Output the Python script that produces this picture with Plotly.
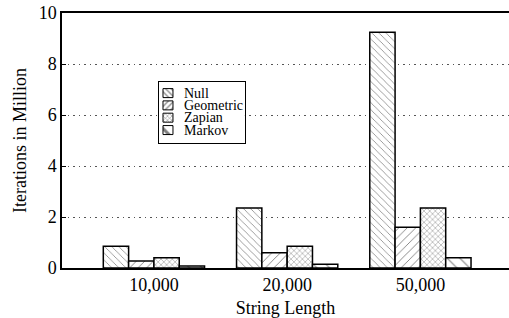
import plotly.graph_objects as go

categories = ["10,000", "20,000", "50,000"]
null_vals = [0.85, 2.35, 9.25]
geometric_vals = [0.27, 0.6, 1.6]
zapian_vals = [0.4, 0.85, 2.35]
markov_vals = [0.08, 0.15, 0.4]

series_names = ["Null", "Geometric", "Zapian", "Markov"]
series_values = [null_vals, geometric_vals, zapian_vals, markov_vals]
pattern_shapes = ["\\", "/", "x", "\\"]
pattern_sizes = [5, 6, 4, 9]
pattern_solidity = [0.15, 0.15, 0.22, 0.12]
legend_icon_sizes = [4, 4, 3, 10]

font_family = "Liberation Serif, Times New Roman, serif"
fig = go.Figure()
for name, vals, shape, size, sol in zip(series_names, series_values, pattern_shapes,
                                        pattern_sizes, pattern_solidity):
    fig.add_trace(go.Bar(
        x=categories, y=vals, name=name, showlegend=False,
        marker=dict(color="white", line=dict(color="black", width=1.5),
                    pattern=dict(shape=shape, size=size, solidity=sol,
                                 fgcolor="black", bgcolor="white", fillmode="overlay")),
    ))

# ---- custom legend drawn in a small overlay subplot (box in pixel-like units) ----
legend_rows = [11, 23.3, 35.6, 48]      # row centres, px from the box top
fig.add_trace(go.Bar(
    orientation="h", y=legend_rows, x=[10] * 4, base=[4] * 4, width=9,
    xaxis="x2", yaxis="y2", showlegend=False, hoverinfo="skip",
    marker=dict(color="white", line=dict(color="black", width=1),
                pattern=dict(shape=pattern_shapes, size=legend_icon_sizes, solidity=0.3,
                             fgcolor="black", bgcolor="white", fillmode="overlay")),
))
annotations = [
    dict(text=n, x=23, y=r, xref="x2", yref="y2", xanchor="left", yanchor="middle",
         showarrow=False, font=dict(size=14, family=font_family, color="black"))
    for n, r in zip(series_names, legend_rows)
]

fig.update_layout(
    width=509, height=318,
    margin=dict(l=62, r=0, t=13, b=50),
    paper_bgcolor="white", plot_bgcolor="white",
    barmode="group", bargap=0.24, bargroupgap=0,
    font=dict(family=font_family, size=18, color="black"),
    showlegend=False,
    annotations=annotations,
    xaxis=dict(
        type="category", range=[-0.69, 2.665], automargin=False,
        showline=True, linecolor="black", linewidth=1.5, mirror=True,
        ticks="", showgrid=False, tickfont=dict(size=18),
        title=dict(text="String Length", font=dict(size=18), standoff=10),
    ),
    yaxis=dict(
        range=[0, 10], dtick=2, automargin=False,
        showline=True, linecolor="black", linewidth=1.5,
        ticks="inside", ticklen=4, tickcolor="black", tickfont=dict(size=18),
        showgrid=True, gridcolor="#555555", griddash="1.5px,4px", gridwidth=1.2,
        zeroline=False,
        title=dict(text="Iterations in Million", font=dict(size=18), standoff=7),
    ),
    xaxis2=dict(domain=[0.217, 0.409], anchor="y2", range=[0, 86],
                showline=True, mirror=True, linecolor="black", linewidth=1,
                showgrid=False, zeroline=False, showticklabels=False, ticks="",
                fixedrange=True),
    yaxis2=dict(domain=[0.490, 0.729], anchor="x2", range=[61, 0],
                showline=True, mirror=True, linecolor="black", linewidth=1,
                showgrid=False, zeroline=False, showticklabels=False, ticks="",
                fixedrange=True),
)

fig.write_html("out.html", config={"displayModeBar": False},
               post_script="document.body.style.margin='0';document.body.style.overflow='hidden';")
